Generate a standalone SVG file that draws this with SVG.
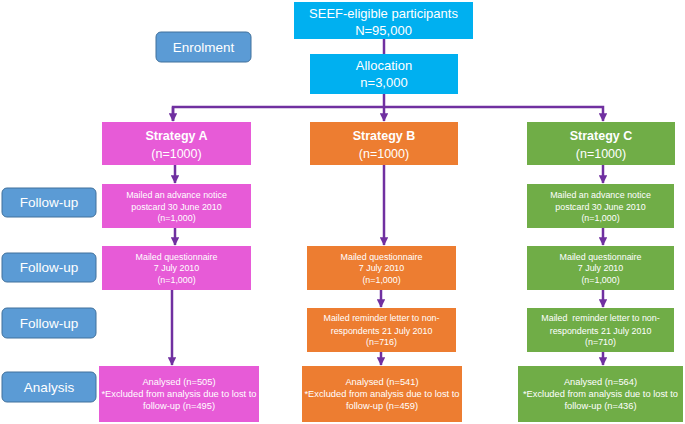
<svg xmlns="http://www.w3.org/2000/svg" width="685" height="424" viewBox="0 0 685 424">
<defs>
<style>
text{font-family:"Liberation Sans",Arial,sans-serif;fill:#fff;text-anchor:middle}
.big{font-size:13px}
.mid{font-size:12.5px}
.sm{font-size:8.9px}
.an{font-size:9.3px}
.lab{font-size:13.5px}
.bold{font-weight:bold}
.cyan{fill:#00B0F0}
.pink{fill:#E75BD7}
.orange{fill:#ED7D31}
.green{fill:#70AD47}
.blue{fill:#5B9BD5;stroke:#41719C;stroke-width:1}
.con{stroke:#7030A0;stroke-width:2.5;fill:none}
</style>
<marker id="ah" viewBox="0 0 10 10" refX="9" refY="5" markerWidth="3.4" markerHeight="3.4" orient="auto" markerUnits="strokeWidth">
<path d="M0,0 L10,5 L0,10 z" fill="#7030A0"/>
</marker>
</defs>
<g id="connectors">
<line class="con" x1="384" y1="39" x2="384" y2="54"/>
<polyline class="con" points="384,94 384,107"/>
<polyline class="con" points="173,121 173,107 603,107 603,121" marker-end="url(#ah)"/>
<line class="con" x1="173" y1="107" x2="173" y2="121" marker-end="url(#ah)"/>
<line class="con" x1="384" y1="107" x2="384" y2="121" marker-end="url(#ah)"/>
<line class="con" x1="175" y1="165" x2="175" y2="183" marker-end="url(#ah)"/>
<line class="con" x1="175" y1="228" x2="175" y2="245" marker-end="url(#ah)"/>
<line class="con" x1="172" y1="290" x2="172" y2="365" marker-end="url(#ah)"/>
<line class="con" x1="384" y1="165" x2="384" y2="245" marker-end="url(#ah)"/>
<line class="con" x1="381" y1="290" x2="381" y2="307" marker-end="url(#ah)"/>
<line class="con" x1="381" y1="352" x2="381" y2="365" marker-end="url(#ah)"/>
<line class="con" x1="603" y1="165" x2="603" y2="183" marker-end="url(#ah)"/>
<line class="con" x1="603" y1="228" x2="603" y2="245" marker-end="url(#ah)"/>
<line class="con" x1="603" y1="290" x2="603" y2="307" marker-end="url(#ah)"/>
<line class="con" x1="603" y1="352" x2="603" y2="365" marker-end="url(#ah)"/>
</g>
<g id="seef">
<rect class="cyan" x="294" y="2" width="179" height="37"/>
<text class="big" x="383.5" y="18">SEEF-eligible participants</text>
<text class="big" x="383.5" y="35">N=95,000</text>
</g>
<g id="allocation">
<rect class="cyan" x="310" y="54" width="148" height="40"/>
<text class="big" x="384" y="70">Allocation</text>
<text class="big" x="384" y="87">n=3,000</text>
</g>
<g id="enrolment">
<rect class="blue" x="156" y="32" width="95" height="30" rx="5"/>
<text class="lab" x="203.5" y="52">Enrolment</text>
</g>
<g id="followup1">
<rect class="blue" x="2" y="188" width="94" height="29" rx="5"/>
<text class="lab" x="49" y="207">Follow-up</text>
</g>
<g id="followup2">
<rect class="blue" x="2" y="253" width="94" height="29" rx="5"/>
<text class="lab" x="49" y="272">Follow-up</text>
</g>
<g id="followup3">
<rect class="blue" x="2" y="308" width="94" height="30" rx="5"/>
<text class="lab" x="49" y="328">Follow-up</text>
</g>
<g id="analysis">
<rect class="blue" x="2" y="372" width="94" height="30" rx="5"/>
<text class="lab" x="49" y="392">Analysis</text>
</g>
<g id="stratA">
<rect class="pink" x="102" y="122" width="149" height="43"/>
<text class="mid bold" x="176.5" y="140">Strategy A</text>
<text class="mid" x="176.5" y="158">(n=1000)</text>
</g>
<g id="A2">
<rect class="pink" x="102" y="184" width="149" height="44"/>
<text class="sm" x="176.5" y="198">Mailed an advance notice</text>
<text class="sm" x="176.5" y="210">postcard 30 June 2010</text>
<text class="sm" x="176.5" y="221">(n=1,000)</text>
</g>
<g id="A3">
<rect class="pink" x="102" y="246" width="149" height="44"/>
<text class="sm" x="176.5" y="260">Mailed questionnaire</text>
<text class="sm" x="176.5" y="271">7 July 2010</text>
<text class="sm" x="176.5" y="283">(n=1,000)</text>
</g>
<g id="A4">
<rect class="pink" x="99" y="366" width="160" height="56"/>
<text class="an" x="179" y="385">Analysed (n=505)</text>
<text class="an" x="179" y="397">*Excluded from analysis due to lost to</text>
<text class="an" x="179" y="409">follow-up (n=495)</text>
</g>
<g id="stratB">
<rect class="orange" x="310" y="122" width="148" height="43"/>
<text class="mid bold" x="384" y="140">Strategy B</text>
<text class="mid" x="384" y="158">(n=1000)</text>
</g>
<g id="B2">
<rect class="orange" x="307" y="246" width="149" height="44"/>
<text class="sm" x="381.5" y="260">Mailed questionnaire</text>
<text class="sm" x="381.5" y="271">7 July 2010</text>
<text class="sm" x="381.5" y="283">(n=1,000)</text>
</g>
<g id="B3">
<rect class="orange" x="307" y="308" width="149" height="44"/>
<text class="sm" x="381.5" y="321">Mailed reminder letter to non-</text>
<text class="sm" x="381.5" y="334">respondents 21 July 2010</text>
<text class="sm" x="381.5" y="345">(n=716)</text>
</g>
<g id="B4">
<rect class="orange" x="302" y="366" width="160" height="56"/>
<text class="an" x="382" y="385">Analysed (n=541)</text>
<text class="an" x="382" y="397">*Excluded from analysis due to lost to</text>
<text class="an" x="382" y="409">follow-up (n=459)</text>
</g>
<g id="stratC">
<rect class="green" x="527" y="122" width="148" height="43"/>
<text class="mid bold" x="601" y="140">Strategy C</text>
<text class="mid" x="601" y="158">(n=1000)</text>
</g>
<g id="C2">
<rect class="green" x="527" y="184" width="147" height="44"/>
<text class="sm" x="600.5" y="198">Mailed an advance notice</text>
<text class="sm" x="600.5" y="210">postcard 30 June 2010</text>
<text class="sm" x="600.5" y="221">(n=1,000)</text>
</g>
<g id="C3">
<rect class="green" x="527" y="246" width="147" height="44"/>
<text class="sm" x="600.5" y="260">Mailed questionnaire</text>
<text class="sm" x="600.5" y="271">7 July 2010</text>
<text class="sm" x="600.5" y="283">(n=1,000)</text>
</g>
<g id="C4">
<rect class="green" x="527" y="308" width="147" height="44"/>
<text class="sm" x="600.5" y="321" xml:space="preserve">Mailed  reminder letter to non-</text>
<text class="sm" x="600.5" y="334">respondents 21 July 2010</text>
<text class="sm" x="600.5" y="345">(n=710)</text>
</g>
<g id="C5">
<rect class="green" x="518" y="366" width="165" height="56"/>
<text class="an" x="600.5" y="385">Analysed (n=564)</text>
<text class="an" x="600.5" y="397">*Excluded from analysis due to lost to</text>
<text class="an" x="600.5" y="409">follow-up (n=436)</text>
</g>
</svg>
